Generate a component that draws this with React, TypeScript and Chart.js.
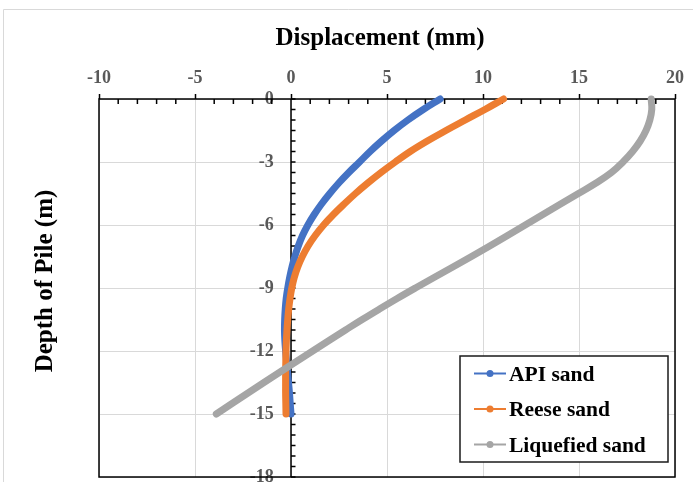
import React, { useEffect, useRef } from "react";
import { Chart, registerables } from "chart.js";

Chart.register(...registerables);

// ---------- data ----------
const depths = [
  0, -0.5, -1, -1.5, -2, -2.5, -3, -3.5, -4, -4.5, -5, -5.5, -6, -6.5, -7, -7.5,
  -8, -8.5, -9, -9.5, -10, -10.5, -11, -11.5, -12, -12.5, -13, -13.5, -14, -14.5, -15,
];
const apiSand = [
  7.77, 6.89, 6.09, 5.37, 4.72, 4.12, 3.57, 3.01, 2.49, 2.02, 1.59, 1.21, 0.88, 0.6, 0.38, 0.2,
  0.05, -0.07, -0.17, -0.25, -0.3, -0.33, -0.34, -0.32, -0.28, -0.23, -0.18, -0.13, -0.08, -0.04, 0.0,
];
const reeseSand = [
  11.07, 10.1, 9.08, 8.07, 7.1, 6.21, 5.43, 4.69, 4.0, 3.36, 2.77, 2.21, 1.7, 1.26, 0.89, 0.59,
  0.35, 0.17, 0.04, -0.05, -0.12, -0.17, -0.21, -0.24, -0.26, -0.27, -0.28, -0.28, -0.28, -0.27, -0.26,
];
const liquefiedSand = [
  18.76, 18.79, 18.69, 18.49, 18.19, 17.79, 17.29, 16.69, 15.89, 14.97, 14.04, 13.12, 12.2, 11.28, 10.35, 9.4,
  8.43, 7.45, 6.48, 5.53, 4.61, 3.71, 2.84, 1.98, 1.13, 0.28, -0.57, -1.41, -2.24, -3.07, -3.89,
];
const seriesNames = ["API sand", "Reese sand", "Liquefied sand"];
const seriesValues = [apiSand, reeseSand, liquefiedSand];
const seriesColors = ["#4472C4", "#ED7D31", "#A5A5A5"];

const xTitle = "Displacement (mm)";
const yTitle = "Depth of Pile (m)";
const xMin = -10;
const xMax = 20;
const xStep = 5;
const xMinorStep = 1;
const yMin = -18;
const yMax = 0;
const yStep = 3;
const yMinorStep = 0.5;

// ---------- styles ----------
const FAMILY = "'Liberation Serif', 'Times New Roman', serif";
const TICK_COLOR = "#595959";
const GRID_COLOR = "#D9D9D9";

const decorPlugin = {
  id: "decor",
  beforeDraw(chart: any) {
    const ctx = chart.ctx;
    ctx.save();
    ctx.fillStyle = "#fff";
    ctx.fillRect(0, 0, chart.width, chart.height);
    ctx.strokeStyle = GRID_COLOR;
    ctx.lineWidth = 1;
    ctx.beginPath();
    ctx.moveTo(3.5, chart.height + 5);
    ctx.lineTo(3.5, 9.5);
    ctx.lineTo(chart.width + 5, 9.5);
    ctx.stroke();
    ctx.restore();
  },
  beforeDatasetsDraw(chart: any) {
    const { ctx, chartArea: a, scales } = chart;
    const xs = scales.x;
    const ys = scales.y;
    ctx.save();
    ctx.strokeStyle = "#000";
    ctx.lineWidth = 1.5;
    ctx.strokeRect(a.left, a.top, a.right - a.left, a.bottom - a.top);
    const x0 = xs.getPixelForValue(0);
    ctx.beginPath();
    ctx.moveTo(x0, a.top);
    ctx.lineTo(x0, a.bottom);
    ctx.stroke();
    // x minor ticks (inside, downward)
    const nx = Math.round((xMax - xMin) / xMinorStep);
    ctx.beginPath();
    for (let i = 0; i <= nx; i++) {
      const v = xMin + i * xMinorStep;
      if (Math.abs(v % xStep) < 1e-9) continue;
      const px = xs.getPixelForValue(v);
      ctx.moveTo(px, a.top);
      ctx.lineTo(px, a.top + 5);
    }
    ctx.stroke();
    // y minor ticks on the x=0 axis (to the right)
    const ny = Math.round((yMax - yMin) / yMinorStep);
    ctx.beginPath();
    for (let i = 0; i <= ny; i++) {
      const v = yMax - i * yMinorStep;
      const py = ys.getPixelForValue(v);
      ctx.moveTo(x0, py);
      ctx.lineTo(x0 + 4.5, py);
    }
    ctx.stroke();
    ctx.restore();
  },
  afterDraw(chart: any) {
    const { ctx, chartArea: a } = chart;
    ctx.save();
    // titles
    ctx.fillStyle = "#000";
    ctx.font = `bold 25px ${FAMILY}`;
    ctx.textAlign = "center";
    ctx.textBaseline = "alphabetic";
    ctx.fillText(xTitle, 380, 44.5);
    ctx.save();
    ctx.translate(52, 281);
    ctx.rotate(-Math.PI / 2);
    ctx.fillText(yTitle, 0, 0);
    ctx.restore();

    // legend
    const boxW = 208;
    const boxH = 106;
    const bx = a.right - 7 - boxW;
    const by = a.bottom - 15 - boxH;
    ctx.fillStyle = "#fff";
    ctx.fillRect(bx, by, boxW, boxH);
    ctx.strokeStyle = "#1a1a1a";
    ctx.lineWidth = 1.5;
    ctx.strokeRect(bx, by, boxW, boxH);
    ctx.font = `bold 21.5px ${FAMILY}`;
    ctx.textAlign = "left";
    chart.data.datasets.forEach((ds: any, i: number) => {
      const cy = by + 17.5 + i * 35.5;
      ctx.strokeStyle = ds.borderColor;
      ctx.lineWidth = 2;
      ctx.beginPath();
      ctx.moveTo(bx + 14, cy);
      ctx.lineTo(bx + 46, cy);
      ctx.stroke();
      ctx.fillStyle = ds.borderColor;
      ctx.beginPath();
      ctx.arc(bx + 30, cy, 3.5, 0, Math.PI * 2);
      ctx.fill();
      ctx.fillStyle = "#000";
      ctx.fillText(ds.label, bx + 49, cy + 7.2);
    });
    ctx.restore();
  },
};

export default function App() {
  const ref = useRef<HTMLCanvasElement | null>(null);
  useEffect(() => {
    if (!ref.current) return;
    const tickFont = { family: FAMILY, size: 18, weight: "bold" as const };
    const chart = new Chart(ref.current, {
      type: "scatter",
      data: {
        datasets: seriesNames.map((name, i) => ({
          label: name,
          data: depths.map((d, j) => ({ x: seriesValues[i][j], y: d })),
          borderColor: seriesColors[i],
          backgroundColor: seriesColors[i],
          borderWidth: 7,
          pointRadius: 0,
          pointHoverRadius: 0,
          showLine: true,
          tension: 0.4,
          borderCapStyle: "round",
          borderJoinStyle: "round",
          order: 3 - i,
          clip: false,
        })),
      },
      options: {
        animation: false,
        responsive: false,
        events: [],
        layout: { padding: { left: 0, top: 0, right: 18, bottom: 5 } },
        plugins: {
          legend: { display: false },
          tooltip: { enabled: false },
          title: { display: false },
        },
        scales: {
          x: {
            type: "linear",
            position: "top",
            min: xMin,
            max: xMax,
            ticks: { stepSize: xStep, color: TICK_COLOR, font: tickFont, padding: 5 },
            grid: { color: GRID_COLOR, tickColor: "#000", tickLength: 5, tickWidth: 1.5 },
            border: { display: false },
            afterFit: (s: any) => {
              s.height = 99;
            },
          },
          y: {
            type: "linear",
            position: "left",
            min: yMin,
            max: yMax,
            ticks: { stepSize: yStep, display: false },
            grid: { color: GRID_COLOR, drawTicks: false },
            border: { display: false },
            afterFit: (s: any) => {
              s.width = 99;
            },
          },
          y2: {
            type: "linear",
            axis: "y",
            // tick labels sit just left of the x = 0 axis
            position: { x: -0.9 },
            min: yMin,
            max: yMax,
            ticks: { stepSize: yStep, color: TICK_COLOR, font: tickFont, padding: 0 },
            grid: { drawOnChartArea: false, drawTicks: false },
            border: { display: false },
            afterFit: (s: any) => {
              s.width = 0;
              s.paddingTop = 0;
              s.paddingBottom = 0;
            },
          },
        } as any,
      },
      plugins: [decorPlugin],
    } as any);
    return () => chart.destroy();
  }, []);
  return (
    <div style={{ position: "fixed", left: 0, top: 0, width: 693, height: 482, background: "#fff" }}>
      <canvas ref={ref} width={693} height={482} style={{ display: "block", width: 693, height: 482 }} />
    </div>
  );
}
